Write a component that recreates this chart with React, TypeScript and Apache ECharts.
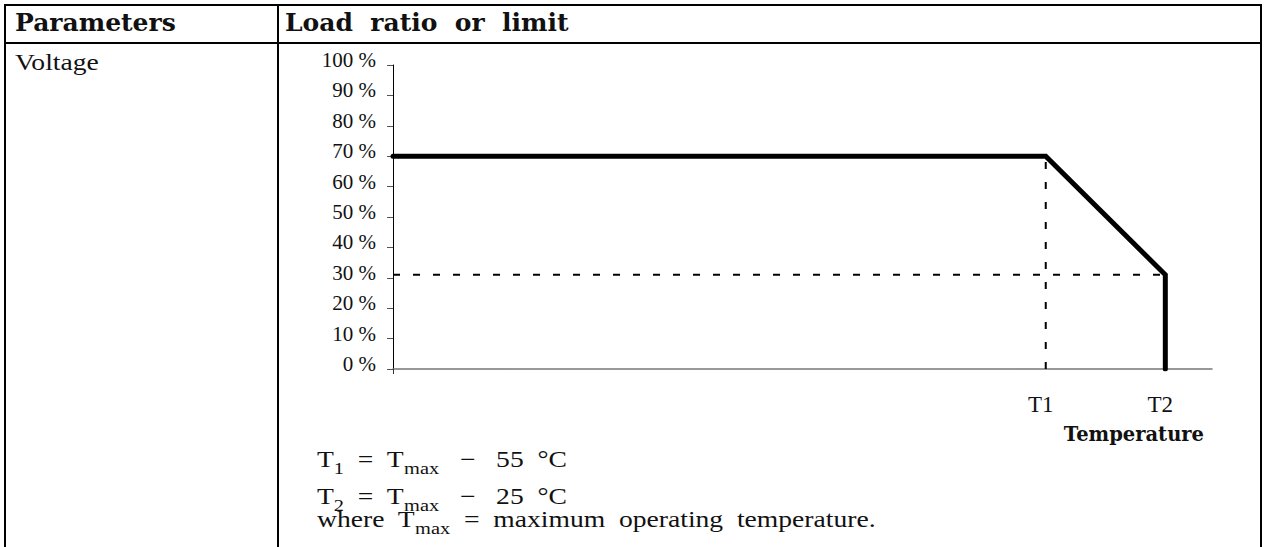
import React, { useEffect, useRef } from "react";
import * as echarts from "echarts";

// Derating curve: load ratio (%) against temperature, T1 and T2 marked on the x axis.
const yTicks = [0, 10, 20, 30, 40, 50, 60, 70, 80, 90, 100];
const xMax = 100;
const T1 = 79.7;
const T2 = 94.3;
const plateauRatio = 70;
const endRatio = 31;
const xTickLabels = ["T1", "T2"];

const curve: [number, number][] = [
  [0, plateauRatio],
  [T1, plateauRatio],
  [T2, endRatio],
  [T2, 0],
];
const verticalGuide: [number, number][] = [
  [T1, 0],
  [T1, plateauRatio],
];
const horizontalGuide: [number, number][] = [
  [0, endRatio],
  [T2, endRatio],
];

const headers = ["Parameters", "Load  ratio  or  limit"];
const parameterName = "Voltage";
const axisTitle = "Temperature";

const SERIF_BOLD = "'DejaVu Serif', 'Liberation Serif', serif";
const SERIF = "'Liberation Serif', serif";

export default function App() {
  const ref = useRef<HTMLDivElement>(null);

  useEffect(() => {
    document.body.style.margin = "0";
    if (!ref.current) return;
    const chart = echarts.init(ref.current, undefined, { renderer: "svg" });

    const border = { stroke: "#000", lineWidth: 2 };

    // one line of the formula block, widened to the look of a broad book face
    const formulaLine = (y: number, content: string) => ({
      type: "text",
      x: 317,
      y,
      scaleX: 1.2,
      style: {
        text: content,
        fontFamily: SERIF,
        fontSize: 23,
        fill: "#111",
        verticalAlign: "top",
        rich: {
          m: { fontFamily: SERIF, fontSize: 23, fill: "#111", padding: [0, 0, 7, 0], verticalAlign: "bottom" },
          s: { fontFamily: SERIF, fontSize: 17, fill: "#111", lineHeight: 17, verticalAlign: "bottom" },
        },
      },
    });

    chart.setOption({
      animation: false,
      backgroundColor: "#fff",
      grid: { left: 393, right: 52, top: 65, bottom: 178 },
      xAxis: {
        type: "value",
        min: 0,
        max: xMax,
        splitLine: { show: false },
        axisLine: { show: true, lineStyle: { color: "#777", width: 1.5 } },
        axisTick: { show: true, customValues: [0], length: 5, lineStyle: { color: "#333" } },
        axisLabel: {
          customValues: [T1, T2],
          formatter: (v: number) => (v === T1 ? xTickLabels[0] : xTickLabels[1]),
          margin: 24,
          padding: [0, 10, 0, 0],
          fontFamily: SERIF,
          fontSize: 23,
          color: "#111",
        },
        name: axisTitle,
        nameLocation: "end",
        nameGap: -8,
        nameTextStyle: {
          fontFamily: SERIF_BOLD,
          fontSize: 19.5,
          fontWeight: "bold",
          color: "#111",
          align: "right",
          verticalAlign: "top",
          padding: [55, 0, 0, 0],
        },
      },
      yAxis: {
        type: "value",
        min: yTicks[0],
        max: yTicks[yTicks.length - 1],
        interval: 10,
        splitLine: { show: false },
        axisLine: { show: true, lineStyle: { color: "#000", width: 1 } },
        axisTick: { show: true, length: 6, lineStyle: { color: "#555" } },
        axisLabel: {
          formatter: (v: number) => `{v|${v} %}`,
          margin: 17,
          rich: {
            v: { fontFamily: SERIF, fontSize: 21, color: "#111", padding: [0, 0, 10, 0] },
          },
        },
      },
      series: [
        {
          type: "line",
          data: verticalGuide,
          symbol: "none",
          lineStyle: { color: "#000", width: 2, type: [7, 13] },
          z: 2,
        },
        {
          type: "line",
          data: horizontalGuide,
          symbol: "none",
          lineStyle: { color: "#000", width: 2, type: [7, 13] },
          z: 2,
        },
        {
          type: "line",
          data: curve,
          symbol: "none",
          lineStyle: { color: "#000", width: 5, cap: "round", join: "miter" },
          z: 3,
        },
      ],
      graphic: [
        // table frame
        { type: "line", shape: { x1: 4, y1: 5, x2: 1262, y2: 5 }, style: border },
        { type: "line", shape: { x1: 4, y1: 43, x2: 1262, y2: 43 }, style: border },
        { type: "line", shape: { x1: 5, y1: 4, x2: 5, y2: 547 }, style: border },
        { type: "line", shape: { x1: 278, y1: 4, x2: 278, y2: 547 }, style: border },
        { type: "line", shape: { x1: 1261, y1: 4, x2: 1261, y2: 547 }, style: border },
        {
          type: "text",
          x: 15,
          y: 22,
          style: { text: headers[0], fontFamily: SERIF_BOLD, fontSize: 25, fontWeight: "bold", fill: "#111", verticalAlign: "middle" },
        },
        {
          type: "text",
          x: 285,
          y: 22,
          style: { text: headers[1], fontFamily: SERIF_BOLD, fontSize: 25, fontWeight: "bold", fill: "#111", verticalAlign: "middle" },
        },
        {
          type: "text",
          x: 15,
          y: 62,
          scaleX: 1.2,
          style: { text: parameterName, fontFamily: SERIF, fontSize: 23, fill: "#111", verticalAlign: "middle" },
        },
        formulaLine(447, "{m|T}{s|1}{m|  =  T}{s|max}{m|   −   55  °C}"),
        formulaLine(484, "{m|T}{s|2}{m|  =  T}{s|max}{m|   −   25  °C}"),
        formulaLine(507, "{m|where  T}{s|max}{m|  =  maximum  operating  temperature.}"),
      ],
    });

    return () => chart.dispose();
  }, []);

  return <div ref={ref} style={{ width: 1264, height: 547 }} />;
}
